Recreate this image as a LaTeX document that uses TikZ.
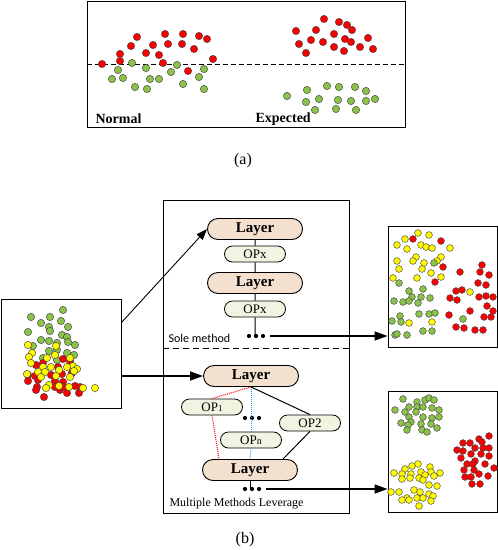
\documentclass[tikz,border=0pt]{standalone}
\usepackage{fontspec}
\setmainfont{Liberation Serif}
\newfontfamily\notefont{Carlito}
\usetikzlibrary{shapes.misc}
\usetikzlibrary{arrows.meta}
\usetikzlibrary{calc}

\definecolor{layerfill}{RGB}{243,224,207}
\definecolor{opfill}{RGB}{242,244,225}
\definecolor{ptred}{RGB}{250,0,0}
\definecolor{ptgreen}{RGB}{138,194,74}
\definecolor{ptyellow}{RGB}{255,250,0}
\definecolor{linkblue}{RGB}{30,170,230}

\tikzset{
  layer/.style={rounded rectangle, draw, line width=0.9pt, fill=layerfill, minimum width=95pt, minimum height=21pt, inner sep=0pt, font=\bfseries\fontsize{15}{15}\selectfont},
  op/.style={rounded rectangle, draw, line width=0.8pt, fill=opfill, minimum width=61pt, minimum height=16pt, inner sep=0pt, font=\fontsize{13}{13}\selectfont},
  panel/.style={draw, line width=0.8pt, inner sep=0pt},
  pt/.style={draw=black!75, line width=0.45pt},
  ell/.style={inner sep=0pt, minimum width=22pt, minimum height=5pt},
  link/.style={line width=1pt},
  bigarrow/.style={line width=1.5pt, -{Triangle[length=13pt,width=9pt]}},
  thinarrow/.style={line width=0.9pt, -{Triangle[length=11pt,width=8pt]}}
}

% scatter points: colour, radius, x/y list
\newcommand{\pts}[3]{\foreach \x/\y in {#3} \filldraw[pt, fill=#1] (\x,\y) circle[radius=#2];}
% three dots round a node
\newcommand{\threedots}[1]{\foreach \d in {-7,0,7} \fill ([xshift=\d pt]#1) circle[radius=2.1pt];}

\begin{document}
\begin{tikzpicture}[x=1pt, y=-1pt]
\useasboundingbox (0,0) rectangle (498,550);

% (a)
\node[panel, minimum width=318pt, minimum height=126pt] (panela) at (246,64) {};
\draw[dashed, line width=0.8pt, dash pattern=on 5pt off 3pt] (panela.west) -- (panela.east);
\pts{ptred}{3.7pt}{102/64,120/54,120/61,131/46,137/37,146/53,153/45,159/55,163/63,165/34,168/44,182/44,183/34,194/49,199/36,207/39,213/59,188/71}
\pts{ptgreen}{3.7pt}{132/63,118/70,112/79,123/78,135/87,146/68,147/89,150/79,159/79,171/72,177/65,183/84,199/77,204/69,204/89}
\pts{ptred}{3.7pt}{296/31,324/19,339/22,347/25,352/30,316/30,334/34,299/44,311/40,323/42,345/39,351/42,368/38,306/53,334/47,344/51,360/47,373/49}
\pts{ptgreen}{3.7pt}{287/96,307/90,306/102,315/110,319/99,327/86,339/87,338/100,336/109,351/101,355/87,356/110,366/91,366/101,375/99}
\node[anchor=west, font=\bfseries\fontsize{14}{14}\selectfont] (normal) at (92,119) {Normal};
\node[anchor=west, font=\bfseries\fontsize{14}{14}\selectfont] (expected) at (252,119) {Expected};
\node[font=\fontsize{16}{16}\selectfont] (capa) at (243,161) {(a)};

% (b) input
\node[panel, minimum width=120pt, minimum height=109pt] (inbox) at (61,353.5) {};
\pts{ptgreen}{3.7pt}{31/317,50/317,63/310,41/323,61/321,49/327,68/327,50/331,28/332,62/335,67/337,41/340,49/341,57/343,68/342,75/345,33/346,49/351,57/350,67/353,74/355,43/358,57/360}
\pts{ptred}{3.7pt}{63/359,70/361,36/365,43/363,58/367,28/375,35/376,51/375,62/374,72/373,28/381,38/380,55/381,63/382,37/387,36/390,55/387,60/390,67/393,75/386,79/393,63/387,44/397,80/387}
\pts{ptyellow}{3.7pt}{28/345,56/346,32/353,29/357,31/363,47/358,55/355,70/358,43/367,51/367,73/366,67/367,77/369,38/372,45/372,59/370,74/371,27/374,41/377,56/376,70/377,49/385,59/386,69/387,83/388,95/388,46/388}

% methods
\node[panel, minimum width=186pt, minimum height=313pt] (methodbox) at (256,356.5) {};
\coordinate (split) at (256,348);
\draw[dashed, line width=0.7pt, dash pattern=on 6pt off 4pt] (methodbox.west |- split) -- (methodbox.east |- split);

\node[layer] (layer1) at (255,229) {Layer};
\node[op] (opx1) at (255,254) {OPx};
\node[layer] (layer2) at (255,283) {Layer};
\node[op] (opx2) at (255,309) {OPx};
\node[ell] (soledots) at (256,336) {};
\threedots{soledots}
\draw[link] (layer1) -- (opx1) -- (layer2) -- (opx2) -- ([yshift=-2pt]opx2.south |- soledots.north);
\node[anchor=west, font=\notefont\fontsize{12}{12}\selectfont] (solelabel) at (165,338) {Sole method};

\node[layer] (layer3) at (251,376) {Layer};
\node[op] (op1) at (212,407) {OP{\fontsize{9}{9}\selectfont 1}};
\node[ell] (middots) at (252,418) {};
\threedots{middots}
\node[op] (op2) at (310,423) {OP2};
\node[op] (opn) at (251,440) {OP{\fontsize{10}{10}\selectfont n}};
\node[layer] (layer4) at (250,470) {Layer};
\node[ell] (multidots) at (252,489) {};
\threedots{multidots}
\node[anchor=west, font=\fontsize{12}{12}\selectfont] (multilabel) at (166,504) {Multiple Methods Leverage};

\draw[ptred, densely dotted, line width=1pt] (layer3.south) -- (op1.north);
\draw[ptred, densely dotted, line width=1pt] (op1.south) -- ([xshift=7pt]op1.south |- layer4.north);
\draw[linkblue, densely dotted, line width=1pt] (layer3.south) -- (opn.north);
\draw[linkblue, densely dotted, line width=1pt] (opn.south) -- (layer4.north);
\draw[link] (layer3.south) -- (op2.north);
\draw[link] (op2.south) -- ([xshift=-4pt]layer4.north east);
\draw[link] (layer4.south) -- ([yshift=-2pt]layer4.south |- multidots.north);

% outputs
\node[panel, minimum width=109pt, minimum height=121pt] (boxsole) at (442.5,286.5) {};
\pts{ptyellow}{3.4pt}{418/233,429/235,405/239,397/245,421/245,426/247,432/248,407/249,450/248,416/257,413/261,441/257,437/261,397/261,424/263,422/269,399/269,431/273,417/278,393/278,441/277,470/292,409/323,432/322}
\pts{ptred}{3.4pt}{413/239,441/241,443/267,460/272,482/265,480/272,489/275,435/282,478/283,486/285,456/291,462/290,450/298,457/300,479/297,486/296,493/297,487/306,470/311,493/311,484/317,491/317,449/315,456/327,464/328,475/330,483/330}
\pts{ptgreen}{3.4pt}{434/263,399/283,409/291,423/289,412/297,421/297,430/298,394/301,403/302,409/301,418/303,400/316,419/314,429/314,435/313,392/321,401/322,463/319,423/331,432/331,395/335,397/334,407/335}

\node[panel, minimum width=109pt, minimum height=121pt] (boxmulti) at (442.5,451.5) {};
\pts{ptgreen}{3.4pt}{403/399,417/402,425/400,429/398,434/400,395/410,405/412,409/407,417/407,423/407,416/412,432/408,439/410,409/417,423/417,432/418,439/417,401/423,411/422,408/425,421/424,431/424,422/430,437/428,427/432,407/430}
\pts{ptred}{3.4pt}{489/436,479/439,463/443,470/443,482/442,475/448,457/450,463/451,483/448,489/448,461/458,471/454,481/454,489/456,475/461,467/464,473/464,485/464,494/468,464/470,474/470,479/474,465/477,471/477,488/476,472/484,480/484}
\pts{ptyellow}{3.4pt}{418/464,412/466,405/469,430/467,394/473,402/474,411/474,421/472,431/472,440/473,425/475,434/476,402/479,410/478,419/478,423/480,429/485,437/486,391/492,399/492,414/490,420/492,429/494,407/498,417/498,423/498,433/496,402/500,431/501,409/500,419/506}

% arrows
\draw[thinarrow] ($(inbox.north east)+(0,24)$) -- (layer1.west);
\draw[bigarrow] (layer3.west -| inbox.east) -- (layer3.west);
\draw[bigarrow] ([xshift=3pt]soledots.east) -- (soledots.east -| boxsole.west);
\draw[bigarrow] ([xshift=3pt]multidots.east) -- (multidots.east -| boxmulti.west);

\node[font=\fontsize{16}{16}\selectfont] (capb) at (245,540) {(b)};
\end{tikzpicture}
\end{document}
